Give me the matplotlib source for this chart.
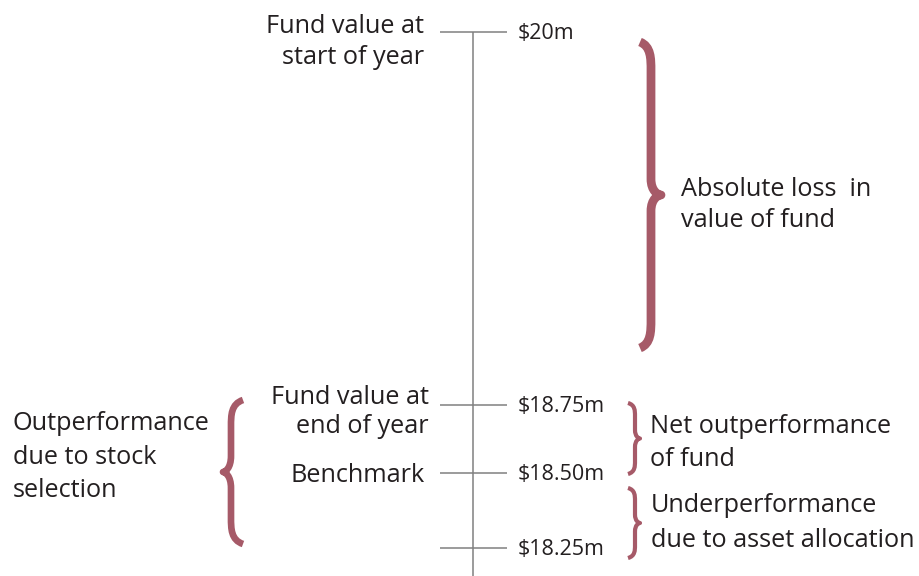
import numpy as np
import matplotlib
matplotlib.use("Agg")
import matplotlib.pyplot as plt
from matplotlib.path import Path
from matplotlib.patches import PathPatch
from matplotlib import transforms

# ---- data ----
tick_values = [20.0, 18.75, 18.50, 18.25]
tick_labels = ["$20m", "$18.75m", "$18.50m", "$18.25m"]
left_labels = ["Fund value at\nstart of year", "Fund value at\nend of year", "Benchmark", ""]

# brace annotations: (label, top value, bottom value)
right_braces = [
    ("Absolute loss  in\nvalue of fund", 20.0, 18.75),
    ("Net outperformance\nof fund", 18.75, 18.50),
    ("Underperformance\ndue to asset allocation", 18.50, 18.25),
]
left_brace = ("Outperformance\ndue to stock\nselection", 18.75, 18.25)

# ---- styling ----
W, H, DPI = 920, 576, 100
TEXT = "#231f20"
LINE = "#808080"
BRACE = "#a65a68"
FONT = "Open Sans"
FS = 18.2
TICK_FS = 15.5

# chart not drawn to scale: piecewise-linear value scale (pixel from bottom)
_v = np.array([18.0, 18.25, 18.5, 18.75, 20.0, 20.2])
_p = np.array([576 - 623, 576 - 548, 576 - 473, 576 - 405, 576 - 32, 576 + 28], float)

def fwd(v):
    return np.interp(v, _v, _p)

def inv(p):
    return np.interp(p, _p, _v)

fig = plt.figure(figsize=(W / DPI, H / DPI), dpi=DPI)
ax = fig.add_axes([0, 0, 1, 1])
ax.set_yscale("function", functions=(fwd, inv))
ax.set_xlim(0, W)
ax.set_ylim(inv(0.0), inv(576.0))
ax.axis("off")

# overlay axes in pixel coords for the decorative braces
ov = fig.add_axes([0, 0, 1, 1], facecolor="none")
ov.set_xlim(0, W)
ov.set_ylim(H, 0)
ov.axis("off")

# axis line and ticks
ax.vlines(473, inv(0.0), max(tick_values), color=LINE, lw=1.1)
ax.hlines(tick_values, 440, 507, color=LINE, lw=1.1)

def off(dx, dy):
    return transforms.offset_copy(ax.transData, fig=fig, x=dx, y=-dy, units="dots")

for v, lab in zip(tick_values, tick_labels):
    ax.text(518, v, lab, transform=off(0, 2), ha="left", va="center",
            fontsize=TICK_FS, color=TEXT, family=FONT)

left_dy = [10, 7, 3, 0]
left_x = [424, 429, 425, 425]
left_ls = [1.3, 1.2, 1.2, 1.2]
for v, lab, dy, x, ls in zip(tick_values, left_labels, left_dy, left_x, left_ls):
    if lab:
        ax.text(x, v, lab, transform=off(0, dy), ha="right", va="center",
                fontsize=FS, color=TEXT, family=FONT, linespacing=ls)

def brace(axh, x_end, y0, y1, depth, tip, lw, direction=1):
    """Curly brace from y0 to y1 (pixels, y downward), ends at x_end,
    spine at x_end+depth, tip at x_end+depth+tip; direction=+1 right, -1 left."""
    d = direction
    ym = (y0 + y1) / 2
    xs = x_end + d * depth
    xt = xs + d * tip
    r = min(28, (y1 - y0) * 0.18)
    r2 = min(16, (y1 - y0) * 0.12)
    verts = [
        (x_end, y0),
        (xs, y0 + r * 0.15), (xs, y0 + r * 0.6), (xs, y0 + r),
        (xs, ym - r2),
        (xs, ym - r2 * 0.25), (xt - d * tip * 0.3, ym), (xt, ym),
        (xt - d * tip * 0.3, ym), (xs, ym + r2 * 0.25), (xs, ym + r2),
        (xs, y1 - r),
        (xs, y1 - r * 0.6), (xs, y1 - r * 0.15), (x_end, y1),
    ]
    codes = [Path.MOVETO, Path.CURVE4, Path.CURVE4, Path.CURVE4, Path.LINETO,
             Path.CURVE4, Path.CURVE4, Path.CURVE4,
             Path.CURVE4, Path.CURVE4, Path.CURVE4, Path.LINETO,
             Path.CURVE4, Path.CURVE4, Path.CURVE4]
    axh.add_patch(PathPatch(Path(verts, codes), fill=False, ec=BRACE, lw=lw,
                            capstyle="butt", joinstyle="round"))

# right braces
brace_geom = [
    # x_end, pixel top, pixel bottom, depth, tip, lw
    (640, 42, 348, 11, 10, 6.3),
    (628, 403, 474, 7, 5, 3.0),
    (628, 488, 558, 7, 5, 3.0),
]
text_geom = [(681, 205, 1.34), (650, 443, 1.46), (651, 523, 1.52)]
for (lab, v0, v1), (xe, p0, p1, dep, tp, lw), (tx, ty, ls) in zip(right_braces, brace_geom, text_geom):
    brace(ov, xe, p0, p1, dep, tp, lw, direction=1)
    ov.text(tx, ty, lab, ha="left", va="center", fontsize=FS, color=TEXT,
            family=FONT, linespacing=ls)

# left brace
brace(ov, 243, 400, 544, 12, 8, 4.8, direction=-1)
ov.text(13, 457, left_brace[0], ha="left", va="center", fontsize=FS,
        color=TEXT, family=FONT, linespacing=1.47)

fig.savefig("out.png", dpi=DPI)
